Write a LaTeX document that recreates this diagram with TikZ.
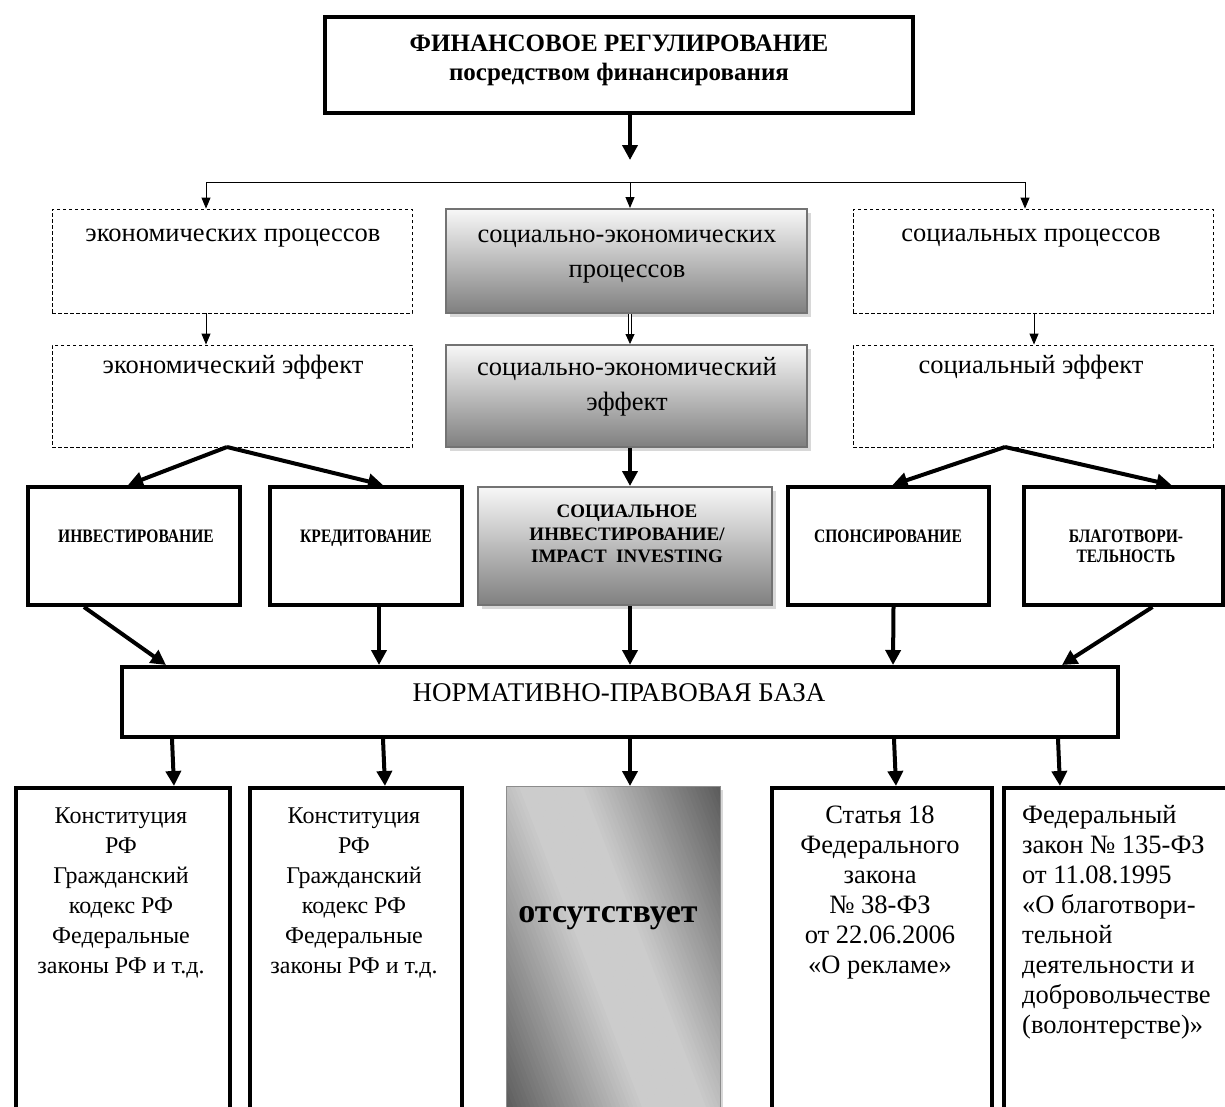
\documentclass[tikz,border=0pt]{standalone}
\usepackage{fontspec}
\setmainfont{Liberation Serif}
\newfontfamily\narrowfont[FakeStretch=0.82]{Liberation Serif}
\usetikzlibrary{arrows.meta,shadows,calc}
\begin{document}
\begin{tikzpicture}[x=1pt,y=-1pt,
  thk/.style={draw, line width=4pt, fill=white, inner sep=0pt},
  dsh/.style={draw, line width=0.9pt, dash pattern=on 3.5pt off 2.5pt, inner sep=0pt},
  grd/.style={draw=black!55, line width=2pt, top color=black!3, bottom color=black!50, inner sep=0pt,
    drop shadow={shadow xshift=4pt, shadow yshift=-4pt, fill=black!30, opacity=.5}},
  diag/.style={draw=black!45, line width=1pt, inner sep=0pt, fill=black!30,
    drop shadow={shadow xshift=3pt, shadow yshift=-3pt, fill=black!30, opacity=.5}},
  bigarrow/.style={line width=4pt, -{Triangle[length=15pt,width=15pt]}},
  thinarrow/.style={line width=1pt, -{Triangle[length=11pt,width=9pt]}},
  rowtxt/.style={font=\fontsize{26.5}{35}\selectfont, inner sep=0pt, anchor=base},
  captxt/.style={font=\narrowfont\bfseries\fontsize{19}{22}\selectfont, inner sep=0pt, anchor=base},
  imptxt/.style={font=\bfseries\fontsize{19}{22}\selectfont, inner sep=0pt, anchor=base},
  lawtxt/.style={inner sep=0pt, anchor=north, align=center},
]
\useasboundingbox (0,0) rectangle (1225,1106);
\fill[white] (0,0) rectangle (1225,1106);

% column coordinates
\coordinate (xe) at (206,0);
\coordinate (xm) at (630,0);
\coordinate (xs) at (1025,0);
\coordinate (xs2) at (1034,0);
\coordinate (hub) at (630,182);
\coordinate (hubL) at (206,182);
\coordinate (hubR) at (1025,182);
\coordinate (tip) at (630,160);

% top
\node[thk, minimum width=588pt, minimum height=96pt] (top) at (619,65) {};
\node[font=\bfseries\fontsize{25}{28}\selectfont, anchor=base, inner sep=0pt] (t1) at (619,51) {ФИНАНСОВОЕ РЕГУЛИРОВАНИЕ};
\node[font=\bfseries\fontsize{25}{28}\selectfont, anchor=base, inner sep=0pt] (t2) at (619,80) {посредством финансирования};

% row 1
\node[dsh, minimum width=360pt, minimum height=104pt] (eproc) at (232,261) {};
\node[grd, minimum width=361pt, minimum height=104pt] (seproc) at (626.5,261) {};
\node[dsh, minimum width=360pt, minimum height=104pt] (sproc) at (1033,261) {};
\node[rowtxt] (eproct) at (233,241) {экономических процессов};
\node[rowtxt] (seproct1) at (627,242) {социально-экономических};
\node[rowtxt] (seproct2) at (627,277) {процессов};
\node[rowtxt] (sproct) at (1031,241) {социальных процессов};

% row 2
\node[dsh, minimum width=360pt, minimum height=102pt] (eeff) at (232,396) {};
\node[grd, minimum width=361pt, minimum height=102pt] (seeff) at (626.5,396) {};
\node[dsh, minimum width=360pt, minimum height=102pt] (seff) at (1033,396) {};
\node[rowtxt] (eefft) at (233,373) {экономический эффект};
\node[rowtxt] (seefft1) at (627,375) {социально-экономический};
\node[rowtxt] (seefft2) at (627,410) {эффект};
\node[rowtxt] (sefft) at (1031,373) {социальный эффект};

% row 3
\node[thk, minimum width=212pt, minimum height=118pt] (inv) at (134,546) {};
\node[thk, minimum width=192pt, minimum height=118pt] (cred) at (366,546) {};
\node[grd, minimum width=294pt, minimum height=118pt] (imp) at (625,546) {};
\node[thk, minimum width=201pt, minimum height=118pt] (spons) at (888,546) {};
\node[thk, minimum width=199pt, minimum height=118pt] (blago) at (1123,546) {};
\node[captxt] (invt) at (136,542) {ИНВЕСТИРОВАНИЕ};
\node[captxt] (credt) at (366,542) {КРЕДИТОВАНИЕ};
\node[imptxt] (impt1) at (627,517) {СОЦИАЛЬНОЕ};
\node[imptxt] (impt2) at (627,540) {ИНВЕСТИРОВАНИЕ/};
\node[imptxt] (impt3) at (627,562) {IMPACT\ \ INVESTING};
\node[captxt] (spont) at (888,542) {СПОНСИРОВАНИЕ};
\node[captxt] (blagot1) at (1126,542) {БЛАГОТВОРИ-};
\node[captxt] (blagot2) at (1126,562) {ТЕЛЬНОСТЬ};

% norm
\node[thk, minimum width=996pt, minimum height=70pt] (norm) at (620,702) {};
\node[font=\fontsize{27}{30}\selectfont, anchor=base, inner sep=0pt] (normt) at (619,701) {НОРМАТИВНО-ПРАВОВАЯ БАЗА};

% bottom
\node[thk, minimum width=214pt, minimum height=330pt, anchor=north west] (b1) at (14,786) {};
\node[thk, minimum width=212pt, minimum height=330pt, anchor=north west] (b2) at (248,786) {};
\node[diag, minimum width=213pt, minimum height=330pt, anchor=north west] (b3) at (506,786) {};
% diagonal gradient of the empty box
\begin{scope}
  \clip (b3.north west) rectangle (b3.south east);
  \begin{scope}[shift={(612.5,946)}, rotate=21]
    \foreach \t in {-184,-180,...,184} {
      \pgfmathsetmacro\g{20+0.34*max(0,abs(\t)-28)}
      \fill[black!\g] (\t-2.3,-260) rectangle (\t+2.3,260);
    }
  \end{scope}
\end{scope}
\draw[black!45, line width=1pt] (b3.north west) rectangle (b3.south east);
\node[thk, minimum width=220pt, minimum height=330pt, anchor=north west] (b4) at (770,786) {};
\node[thk, minimum width=228pt, minimum height=330pt, anchor=north west] (b5) at (1002,786) {};

\node[lawtxt, font=\fontsize{24}{30}\selectfont] (b1t) at (121,802) {\strut Конституция\\РФ\\Гражданский\\кодекс РФ\\Федеральные\\законы РФ и т.д.};
\node[lawtxt, font=\fontsize{24}{30}\selectfont] (b2t) at (354,802) {\strut Конституция\\РФ\\Гражданский\\кодекс РФ\\Федеральные\\законы РФ и т.д.};
\node[font=\bfseries\fontsize{34}{36}\selectfont, anchor=base, inner sep=0pt] (b3t) at (608,922) {отсутствует};
\node[lawtxt, font=\fontsize{26.5}{30}\selectfont] (b4t) at (880,802) {\strut Статья 18\\Федерального\\закона\\№ 38-ФЗ\\от 22.06.2006\\«О рекламе»};
\node[lawtxt, anchor=north west, align=left, font=\fontsize{26.5}{30}\selectfont] (b5t) at (1022,802) {\strut Федеральный\\закон № 135-ФЗ\\от 11.08.1995\\«О благотвори-\\тельной\\деятельности и\\добровольчестве\\(волонтерстве)»};

% connectors top
\draw[bigarrow] (top.south -| xm) -- (tip);
\draw[line width=1pt] (hubL) -- (hubR);
\draw[thinarrow] (hubL) -- (eproc.north -| xe);
\draw[thinarrow] (hub) -- (seproc.north -| xm);
\draw[thinarrow] (hubR) -- (sproc.north -| xs);
\draw[thinarrow] (eproc.south -| xe) -- (eeff.north -| xe);
\draw[double, double distance=2pt, line width=0.8pt, shorten >=9pt] (seproc.south -| xm) -- (seeff.north -| xm);
\draw[line width=0.8pt, -{Triangle[length=10pt,width=9pt]}] ($(seeff.north -| xm)+(0,-10)$) -- (seeff.north -| xm);
\draw[thinarrow] (sproc.south -| xs2) -- (seff.north -| xs2);

% row2 -> row3
\coordinate (aL) at (227,447);
\coordinate (aR) at (1005,447);
\draw[bigarrow] (aL) -- ($(inv.north west)+(102,0)$);
\draw[bigarrow] (aL) -- ($(cred.north west)+(115,0)$);
\draw[bigarrow] (seeff.south -| xm) -- (imp.north -| xm);
\draw[bigarrow] (aR) -- ($(spons.north west)+(107,0)$);
\draw[bigarrow] (aR) -- ($(blago.north west)+(150,0)$);

% row3 -> norm
\draw[bigarrow] ($(inv.south west)+(58,0)$) -- ($(norm.north west)+(46,0)$);
\draw[bigarrow] ($(cred.south west)+(111,0)$) -- ($(norm.north west)+(259,0)$);
\draw[bigarrow] (imp.south -| xm) -- (norm.north -| xm);
\draw[bigarrow] ($(spons.south west)+(108,0)$) -- ($(norm.north west)+(773,0)$);
\draw[bigarrow] ($(blago.south west)+(131,0)$) -- ($(norm.north west)+(942,0)$);

% norm -> bottom
\draw[bigarrow] ($(norm.south west)+(52,0)$) -- ($(b1.north west)+(160,0)$);
\draw[bigarrow] ($(norm.south west)+(263,0)$) -- ($(b2.north west)+(137,0)$);
\draw[bigarrow] (norm.south -| xm) -- (b3.north -| xm);
\draw[bigarrow] ($(norm.south west)+(774,0)$) -- ($(b4.north west)+(126,0)$);
\draw[bigarrow] ($(norm.south west)+(938,0)$) -- ($(b5.north west)+(58,0)$);
\end{tikzpicture}
\end{document}
